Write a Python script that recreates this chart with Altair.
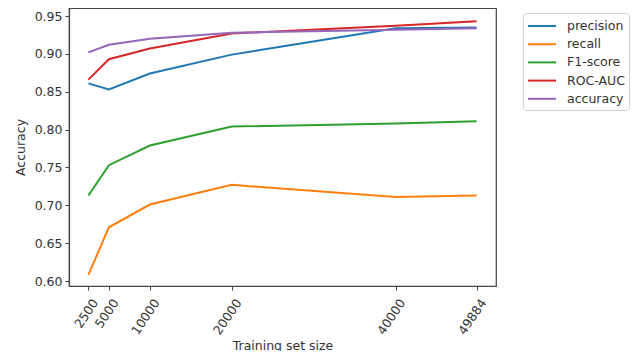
import altair as alt
import pandas as pd

sizes = [2500, 5000, 10000, 20000, 40000, 49884]
precision = [0.861, 0.853, 0.874, 0.899, 0.934, 0.935]
recall = [0.608, 0.671, 0.701, 0.727, 0.711, 0.713]
f1_score = [0.713, 0.753, 0.779, 0.804, 0.808, 0.811]
roc_auc = [0.866, 0.893, 0.907, 0.927, 0.937, 0.943]
accuracy = [0.902, 0.912, 0.920, 0.928, 0.932, 0.934]

metrics = ["precision", "recall", "F1-score", "ROC-AUC", "accuracy"]
series = [precision, recall, f1_score, roc_auc, accuracy]
colors = ["#1f77b4", "#ff7f0e", "#2ca02c", "#d62728", "#9467bd"]
y_ticks = [0.60, 0.65, 0.70, 0.75, 0.80, 0.85, 0.90, 0.95]

rows = []
for m, vals in zip(metrics, series):
    for s, v in zip(sizes, vals):
        rows.append({"size": s, "value": v, "metric": m})
df = pd.DataFrame(rows)

FONT = "DejaVu Sans"

chart = alt.Chart(df).mark_line(strokeWidth=2).encode(
    x=alt.X("size:Q",
            scale=alt.Scale(domain=[131, 52253], nice=False, zero=False),
            axis=alt.Axis(values=sizes, format="d", labelAngle=304,
                          labelAlign="right", labelBaseline="middle",
                          labelOverlap=False, labelOffset=6.5,
                          title="Training set size", titleY=59,
                          titleBaseline="middle", grid=False, tickSize=4,
                          labelPadding=10)),
    y=alt.Y("value:Q",
            scale=alt.Scale(domain=[0.5934, 0.9606], nice=False, zero=False),
            axis=alt.Axis(values=y_ticks, format=".2f", title="Accuracy",
                          titleX=-49, titleY=139, titleAngle=270,
                          titleAlign="center", titleBaseline="middle",
                          grid=False, tickSize=4, labelPadding=3)),
    color=alt.Color("metric:N",
                    scale=alt.Scale(domain=metrics, range=colors),
                    sort=metrics,
                    legend=alt.Legend(title=None, orient="none",
                                      legendX=454, legendY=5,
                                      symbolType="M-1,0H2.5",
                                      symbolSize=256, symbolStrokeWidth=2,
                                      labelOffset=22, padding=4,
                                      rowPadding=2.2,
                                      strokeColor="#d0d0d0", cornerRadius=3,
                                      fillColor="white")),
).properties(
    width=427, height=278,
    autosize=alt.AutoSizeParams(type="none"),
    padding={"left": 61, "top": 0, "right": 137, "bottom": 65},
).configure_view(
    stroke="#444", strokeWidth=1.2
).configure_axis(
    domainColor="#444", tickColor="#444", labelColor="#333",
    titleColor="#333", labelFont=FONT, titleFont=FONT,
    labelFontSize=12.5, titleFontSize=12.5, titleFontWeight="normal",
    domainWidth=1.2
).configure_legend(
    labelFont=FONT, labelFontSize=12.5, labelColor="#333"
)

chart.save("out.html", embed_options={"renderer": "svg", "actions": False})
